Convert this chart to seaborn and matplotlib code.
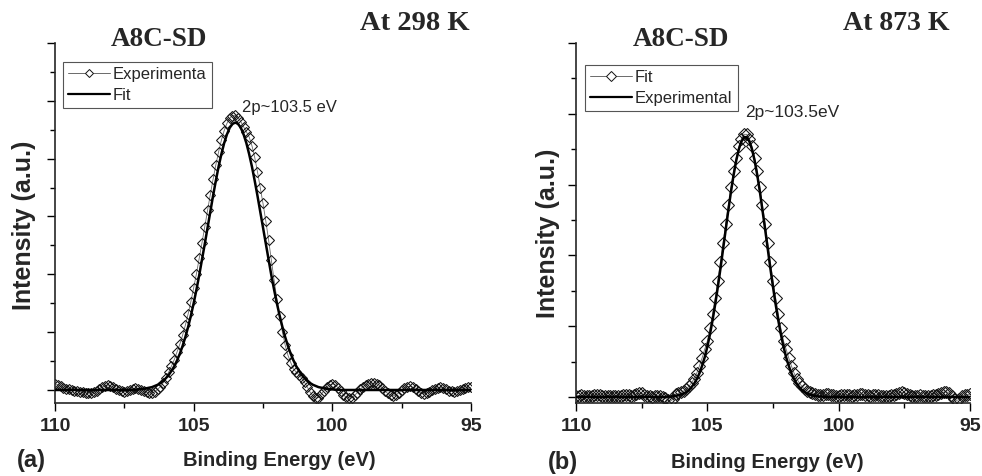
import numpy as np
import pandas as pd
import matplotlib
matplotlib.use("Agg")
import matplotlib.pyplot as plt
import seaborn as sns
from matplotlib.lines import Line2D
from matplotlib.ticker import FixedLocator, MultipleLocator, NullFormatter

# ---------------- data ----------------
energy = np.round(np.linspace(110.0, 95.0, 151), 1)   # binding energy grid, 0.1 eV step

left_exp = [
    0.22, 0.18, 0.13, 0.08, 0.04, 0.02, 0.00, -0.02, -0.04, -0.06,
    -0.08, -0.10, -0.11, -0.10, -0.07, -0.02, 0.04, 0.10, 0.15, 0.17,
    0.15, 0.10, 0.04, -0.01, -0.05, -0.06, -0.04, 0.00, 0.04, 0.06,
    0.05, 0.01, -0.04, -0.08, -0.11, -0.11, -0.06, 0.02, 0.12, 0.25,
    0.42, 0.62, 0.83, 1.05, 1.31, 1.58, 1.89, 2.24, 2.63, 3.06,
    3.53, 4.02, 4.55, 5.09, 5.65, 6.21, 6.76, 7.29, 7.79, 8.24,
    8.64, 8.97, 9.22, 9.40, 9.49, 9.50, 9.42, 9.28, 9.10, 8.93,
    8.75, 8.45, 8.05, 7.55, 7.00, 6.45, 5.85, 5.20, 4.50, 3.80,
    3.15, 2.55, 2.00, 1.55, 1.20, 0.95, 0.72, 0.62, 0.52, 0.40,
    0.26, 0.10, -0.08, -0.20, -0.28, -0.26, -0.15, -0.02, 0.10, 0.18,
    0.21, 0.18, 0.08, -0.05, -0.17, -0.25, -0.28, -0.27, -0.19, -0.09,
    0.02, 0.11, 0.17, 0.21, 0.23, 0.23, 0.22, 0.16, 0.07, -0.04,
    -0.12, -0.18, -0.20, -0.17, -0.09, 0.00, 0.07, 0.12, 0.13, 0.09,
    0.02, -0.05, -0.11, -0.13, -0.11, -0.06, 0.00, 0.05, 0.08, 0.09,
    0.07, 0.03, -0.02, -0.05, -0.06, -0.04, 0.00, 0.04, 0.07, 0.09,
    0.09,
]

left_fit = [
    0, 0, 0, 0, 0, 0, 0, 0, 0, 0,
    0, 0, 0, 0, 0, 0, 0, 0, 0, 0,
    0, 0, 0, 0, 0, 0, 0, 0, 0.01, 0.01,
    0.02, 0.03, 0.04, 0.06, 0.08, 0.10, 0.14, 0.18, 0.24, 0.31,
    0.41, 0.52, 0.66, 0.82, 1.02, 1.25, 1.52, 1.83, 2.18, 2.57,
    3.00, 3.47, 3.97, 4.50, 5.05, 5.61, 6.17, 6.72, 7.24, 7.73,
    8.16, 8.54, 8.84, 9.07, 9.20, 9.25, 9.20, 9.07, 8.84, 8.54,
    8.16, 7.73, 7.24, 6.72, 6.17, 5.61, 5.05, 4.50, 3.97, 3.47,
    3.00, 2.57, 2.18, 1.83, 1.52, 1.25, 1.02, 0.82, 0.66, 0.52,
    0.41, 0.31, 0.24, 0.18, 0.14, 0.10, 0.08, 0.06, 0.04, 0.03,
    0.02, 0.01, 0.01, 0, 0, 0, 0, 0, 0, 0,
    0, 0, 0, 0, 0, 0, 0, 0, 0, 0,
    0, 0, 0, 0, 0, 0, 0, 0, 0, 0,
    0, 0, 0, 0, 0, 0, 0, 0, 0, 0,
    0, 0, 0, 0, 0, 0, 0, 0, 0, 0,
    0,
]

right_exp = [
    0.03, 0.04, 0.05, 0.04, 0.03, 0.02, 0.03, 0.05, 0.06, 0.05,
    0.03, 0.02, 0.03, 0.04, 0.04, 0.03, 0.02, 0.03, 0.05, 0.06,
    0.05, 0.04, 0.06, 0.09, 0.11, 0.10, 0.07, 0.04, 0.02, 0.01,
    0.02, 0.03, 0.02, 0.00, -0.03, -0.08, -0.12, -0.06, 0.08, 0.10,
    0.13, 0.17, 0.22, 0.30, 0.40, 0.52, 0.68, 0.88, 1.10, 1.35,
    1.58, 1.94, 2.35, 2.80, 3.29, 3.81, 4.35, 4.90, 5.42, 5.92,
    6.38, 6.76, 7.08, 7.30, 7.42, 7.42, 7.30, 7.08, 6.76, 6.38,
    5.92, 5.42, 4.90, 4.35, 3.81, 3.29, 2.80, 2.35, 1.94, 1.58,
    1.35, 1.10, 0.88, 0.68, 0.52, 0.40, 0.30, 0.22, 0.17, 0.13,
    0.10, 0.08, 0.06, 0.05, 0.06, 0.08, 0.09, 0.07, 0.05, 0.04,
    0.04, 0.05, 0.06, 0.06, 0.05, 0.04, 0.05, 0.07, 0.09, 0.08,
    0.06, 0.05, 0.04, 0.05, 0.06, 0.05, 0.04, 0.03, 0.03, 0.04,
    0.05, 0.06, 0.08, 0.11, 0.13, 0.12, 0.09, 0.06, 0.04, 0.03,
    0.04, 0.05, 0.04, 0.03, 0.02, 0.03, 0.05, 0.06, 0.08, 0.11,
    0.14, 0.15, 0.11, 0.03, -0.06, -0.10, -0.05, 0.02, 0.06, 0.07,
    0.08,
]

right_fit = [
    0, 0, 0, 0, 0, 0, 0, 0, 0, 0,
    0, 0, 0, 0, 0, 0, 0, 0, 0, 0,
    0, 0, 0, 0, 0, 0, 0, 0, 0, 0,
    0, 0, 0, 0, 0, 0.01, 0.01, 0.02, 0.03, 0.05,
    0.07, 0.10, 0.14, 0.20, 0.28, 0.38, 0.51, 0.67, 0.88, 1.12,
    1.42, 1.77, 2.17, 2.62, 3.11, 3.63, 4.18, 4.74, 5.28, 5.80,
    6.27, 6.68, 7.00, 7.22, 7.34, 7.34, 7.22, 7.00, 6.68, 6.27,
    5.80, 5.28, 4.74, 4.18, 3.63, 3.11, 2.62, 2.17, 1.77, 1.42,
    1.12, 0.88, 0.67, 0.51, 0.38, 0.28, 0.20, 0.14, 0.10, 0.07,
    0.05, 0.03, 0.02, 0.01, 0.01, 0, 0, 0, 0, 0,
    0, 0, 0, 0, 0, 0, 0, 0, 0, 0,
    0, 0, 0, 0, 0, 0, 0, 0, 0, 0,
    0, 0, 0, 0, 0, 0, 0, 0, 0, 0,
    0, 0, 0, 0, 0, 0, 0, 0, 0, 0,
    0, 0, 0, 0, 0, 0, 0, 0, 0, 0,
    0,
]

x_ticks = [110, 105, 100, 95]
x_tick_labels = ["110", "105", "100", "95"]
panel_titles = ["A8C-SD", "A8C-SD"]
temperatures = ["At 298 K", "At 873 K"]
peak_labels = ["2p~103.5 eV", "2p~103.5eV"]
legend_labels = [["Experimenta", "Fit"], ["Fit", "Experimental"]]
panel_letters = ["(a)", "(b)"]
x_label = "Binding Energy (eV)"
y_label = "Intensity (a.u.)"

# ---------------- style ----------------
sns.set_style("ticks")
plt.rcParams['font.family'] = ['Liberation Sans', 'DejaVu Sans']
plt.rcParams['axes.linewidth'] = 1.2

W, H = 982, 476
fig = plt.figure(figsize=(W / 100, H / 100), dpi=100)


def add_axes_px(x0, x1, y0, y1):
    return fig.add_axes([x0 / W, 1 - y1 / H, (x1 - x0) / W, (y1 - y0) / H])


def ftext(x, y, s, **kw):
    return fig.text(x / W, 1 - y / H, s, **kw)


serif = ['Liberation Serif', 'DejaVu Serif']

panels = [
    dict(box=(55, 471, 43, 403), exp=left_exp, fit=left_fit, ylim=(-0.45, 12),
         ms=5.0, leg_ms=3.6, leg_anchor=(0.019, 0.947)),
    dict(box=(576, 970, 43, 403), exp=right_exp, fit=right_fit, ylim=(-0.17, 10),
         ms=5.8, leg_ms=5.6, leg_anchor=(0.023, 0.939)),
]

axes = []
for k, p in enumerate(panels):
    ax = add_axes_px(*p["box"])
    axes.append(ax)
    df = pd.DataFrame({"energy": energy, "experimental": p["exp"], "fit": p["fit"]})
    sns.lineplot(data=df, x="energy", y="experimental", ax=ax, sort=False,
                 estimator=None, color="#6a6a6a", linewidth=0.6, marker="D",
                 markersize=p["ms"], markerfacecolor="none",
                 markeredgecolor="#111111", markeredgewidth=0.75, legend=False,
                 zorder=2)
    sns.lineplot(data=df, x="energy", y="fit", ax=ax, sort=False, estimator=None,
                 color="black", linewidth=1.8, legend=False, zorder=3)

    ax.set_xlim(110, 95)
    ax.set_ylim(*p["ylim"])
    ax.xaxis.set_major_locator(FixedLocator(x_ticks))
    ax.set_xticklabels(x_tick_labels, fontweight="bold", fontsize=14)
    ax.xaxis.set_minor_locator(MultipleLocator(2.5))
    ax.yaxis.set_major_locator(MultipleLocator(2))
    ax.yaxis.set_minor_locator(MultipleLocator(1))
    ax.yaxis.set_major_formatter(NullFormatter())
    ax.tick_params(axis="both", which="major", direction="out", length=5.5,
                   width=1.0, color="black")
    ax.tick_params(axis="both", which="minor", direction="out", length=3.5,
                   width=1.0, color="black")
    ax.tick_params(axis="x", which="major", pad=5)
    ax.set_xlabel("")
    ax.set_ylabel("")
    for side in ["top", "right"]:
        ax.spines[side].set_visible(False)
    ax.set_facecolor("white")

    # legend
    exp_handle = Line2D([], [], color="#6a6a6a", linewidth=0.7, marker="D",
                        markersize=p["leg_ms"], markerfacecolor="white",
                        markeredgecolor="#111111", markeredgewidth=0.7)
    fit_handle = Line2D([], [], color="black", linewidth=1.6)
    leg = ax.legend([exp_handle, fit_handle], legend_labels[k],
                    loc="upper left", bbox_to_anchor=p["leg_anchor"],
                    borderaxespad=0, frameon=True, fancybox=False,
                    edgecolor="#555555", framealpha=1, fontsize=12,
                    handlelength=2.5, handletextpad=0.2, borderpad=0.3,
                    labelspacing=0.35)
    leg.get_frame().set_linewidth(0.8)

# titles, annotations, labels (positions in pixels of the reference)
ftext(159, 39, panel_titles[0], ha="center", va="center", family=serif,
      fontweight="bold", fontsize=19.5)
ftext(681, 40, panel_titles[1], ha="center", va="center", family=serif,
      fontweight="bold", fontsize=19.5)
ftext(415, 24, temperatures[0], ha="center", va="center", family=serif,
      fontweight="bold", fontsize=20.5)
ftext(896, 24, temperatures[1], ha="center", va="center", family=serif,
      fontweight="bold", fontsize=20)
ftext(242, 112, peak_labels[0], ha="left", va="baseline", fontsize=12)
ftext(745, 117, peak_labels[1], ha="left", va="baseline", fontsize=12.5)

ftext(279, 461, x_label, ha="center", va="center", fontweight="bold", fontsize=14.5)
ftext(767, 463, x_label, ha="center", va="center", fontweight="bold", fontsize=14.5)
ftext(24, 225, y_label, ha="center", va="center", rotation=90,
      fontweight="bold", fontsize=18)
ftext(548, 233, y_label, ha="center", va="center", rotation=90,
      fontweight="bold", fontsize=18)
ftext(31, 461, panel_letters[0], ha="center", va="center", fontweight="bold",
      fontsize=17)
ftext(563, 463, panel_letters[1], ha="center", va="center", fontweight="bold",
      fontsize=17)

fig.savefig("out.png", dpi=100, facecolor="white")
